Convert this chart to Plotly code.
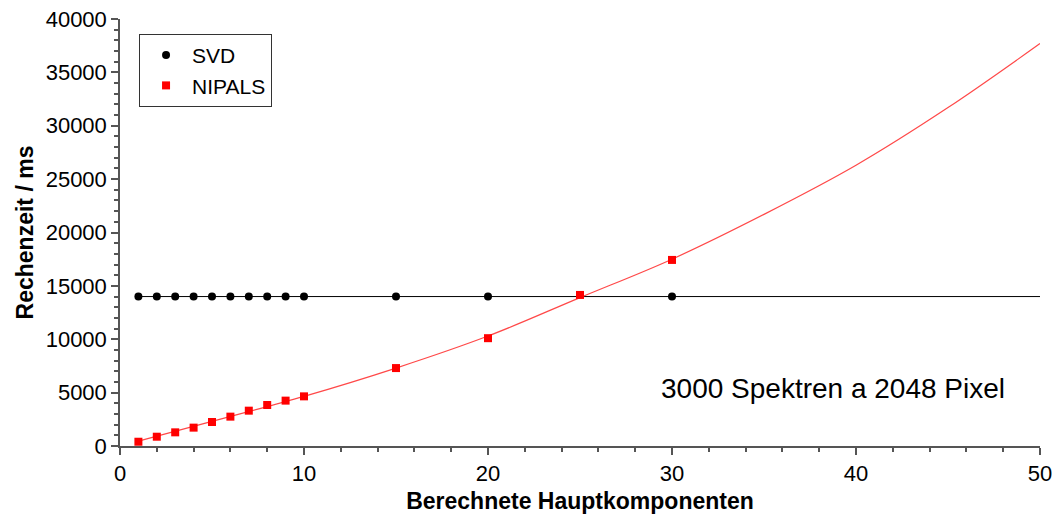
import plotly.graph_objects as go

# Data
svd_x = [1, 2, 3, 4, 5, 6, 7, 8, 9, 10, 15, 20, 30]
svd_y = [14000, 14000, 14000, 14000, 14000, 14000, 14000, 14000, 14000, 14000, 14000, 14000, 14000]

nipals_x = [1, 2, 3, 4, 5, 6, 7, 8, 9, 10, 15, 20, 25, 30]
nipals_y = [400, 870, 1280, 1720, 2250, 2750, 3310, 3840, 4250, 4650, 7300, 10100, 14150, 17430]

# fitted curves
svd_fit_x = [1, 50]
svd_fit_y = [14000, 14000]
nipals_fit_x = [1, 5, 10, 15, 20, 25, 30, 35, 40, 45, 50]
nipals_fit_y = [450, 2300, 4650, 7300, 10300, 13900, 17500, 21700, 26300, 31700, 37700]

x_title = "Berechnete Hauptkomponenten"
y_title = "Rechenzeit / ms"
note = "3000 Spektren a 2048 Pixel"

FONT = "Arial, Liberation Sans, sans-serif"
AX = "#555555"

fig = go.Figure()
fig.add_trace(go.Scatter(x=svd_fit_x, y=svd_fit_y, mode="lines",
                         line=dict(color="black", width=1), showlegend=False, hoverinfo="skip"))
fig.add_trace(go.Scatter(x=nipals_fit_x, y=nipals_fit_y, mode="lines",
                         line=dict(color="rgba(255,40,40,0.85)", width=1.2, shape="spline", smoothing=1.0),
                         showlegend=False, hoverinfo="skip"))
fig.add_trace(go.Scatter(x=svd_x, y=svd_y, mode="markers", name="SVD",
                         marker=dict(symbol="circle", size=8, color="black")))
fig.add_trace(go.Scatter(x=nipals_x, y=nipals_y, mode="markers", name="NIPALS",
                         marker=dict(symbol="square", size=8, color="#ff0000")))

fig.add_annotation(x=0.7745, y=0.135, xref="paper", yref="paper", text=note,
                   xanchor="center", yanchor="middle",
                   showarrow=False, font=dict(family=FONT, size=28, color="black"))

fig.update_layout(
    width=1058, height=514,
    margin=dict(l=120, r=18, t=19, b=68),
    paper_bgcolor="white", plot_bgcolor="white",
    font=dict(family=FONT, size=22, color="black"),
    legend=dict(x=0.0207, y=0.965, xanchor="left", yanchor="top",
                bordercolor="#333333", borderwidth=1, bgcolor="white",
                font=dict(family=FONT, size=21, color="black"),
                tracegroupgap=0, itemwidth=42),
    xaxis=dict(range=[0, 50], dtick=10, tick0=0, showgrid=False, zeroline=False,
               showline=True, linecolor=AX, linewidth=1.5, automargin=False,
               ticks="outside", ticklen=7, tickcolor=AX, tickwidth=1.5,
               minor=dict(dtick=2, ticks="outside", ticklen=4, tickcolor=AX, showgrid=False),
               tickfont=dict(family=FONT, size=22),
               title=dict(text="<b>" + x_title + "</b>", standoff=8,
                          font=dict(family=FONT, size=23))),
    yaxis=dict(range=[0, 40000], dtick=5000, tick0=0, tickformat="d",
               showgrid=False, zeroline=False, ticklabeloverflow="allow",
               showline=True, linecolor=AX, linewidth=1.5, automargin=False,
               ticks="outside", ticklen=7, tickcolor=AX, tickwidth=1.5,
               minor=dict(dtick=1000, ticks="outside", ticklen=4, tickcolor=AX, showgrid=False),
               tickfont=dict(family=FONT, size=22),
               title=dict(text="<b>" + y_title + "</b>", standoff=6,
                          font=dict(family=FONT, size=23))),
)

fig.write_html("out.html", config={"displayModeBar": False},
               post_script="document.body.style.margin='0';")
